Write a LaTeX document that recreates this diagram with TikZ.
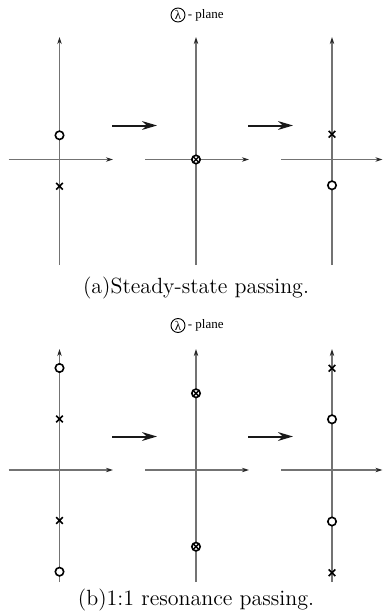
\documentclass[tikz,border=0pt]{standalone}
\usepackage{fontspec}
\newfontfamily\timesf{Liberation Serif}
\usetikzlibrary{arrows.meta,shapes.misc}
\begin{document}
\begin{tikzpicture}[x=0.5pt,y=-0.5pt,
  axisline/.style={draw=black!55, line width=0.6pt, -{Stealth[length=3.5pt,width=2.2pt,black!85]}},
  passarrow/.style={draw=black!90, line width=1pt, -{Stealth[length=7.5pt,width=4.4pt]}},
  zero/.style={circle, draw=black, fill=white, line width=0.8pt, minimum size=4.2pt, inner sep=0pt},
  pole/.style={cross out, draw=black, line width=0.8pt, minimum size=2.5pt, inner sep=0pt},
  polesmall/.style={cross out, draw=black, line width=0.7pt, minimum size=2pt, inner sep=0pt},
  lamcirc/.style={circle, draw=black, line width=0.45pt, minimum size=7pt, inner sep=0pt, font=\timesf\fontsize{6.5}{7}\selectfont},
  planelabel/.style={anchor=west, inner sep=0pt, font=\timesf\fontsize{6.5}{7}\selectfont},
  caption/.style={inner sep=0pt, font=\fontsize{11}{13}\selectfont}]
\useasboundingbox (0,0) rectangle (383,615);
% ---------- panel (a) ----------
\foreach \cx/\rx/\nm in {59.5/113/aL,196/249/aM,332/382.5/aR}{
  \coordinate (\nm b) at (\cx,265);
  \coordinate (\nm t) at (\cx,37);
  \coordinate (\nm l) at (\cx-51,159.5);
  \coordinate (\nm r) at (\rx,159.5);
  \draw[axisline] (\nm b) -- (\nm t);
  \draw[axisline] (\nm l) -- (\nm r);
}
\coordinate (aA1s) at (112,125.5); \coordinate (aA1e) at (157,125.5);
\coordinate (aA2s) at (248,125.5); \coordinate (aA2e) at (293,125.5);
\draw[passarrow] (aA1s) -- (aA1e);
\draw[passarrow] (aA2s) -- (aA2e);
\node[zero] (aLz) at (59.5,135.3) {};
\node[pole] (aLp) at (59.5,186.3) {};
\node[zero] (aMz) at (196,159.5) {};
\node[polesmall] (aMp) at (196,159.5) {};
\node[pole] (aRp) at (332,134.3) {};
\node[zero] (aRz) at (332,185.3) {};
\node[lamcirc] (aLam) at (178,15) {λ};
\node[planelabel] (aPlane) at ([xshift=1pt]aLam.east) {- plane};
\node[caption] (aCap) at (196,288) {(a)Steady-state passing.};
% ---------- panel (b) ----------
\foreach \cx/\rx/\nm in {59.5/113/bL,196/249/bM,332/382.5/bR}{
  \coordinate (\nm b) at (\cx,582);
  \coordinate (\nm t) at (\cx,349);
  \coordinate (\nm l) at (\cx-51,470);
  \coordinate (\nm r) at (\rx,470);
  \draw[axisline] (\nm b) -- (\nm t);
  \draw[axisline] (\nm l) -- (\nm r);
}
\coordinate (bA1s) at (112,436.5); \coordinate (bA1e) at (157,436.5);
\coordinate (bA2s) at (248,436.5); \coordinate (bA2e) at (293,436.5);
\draw[passarrow] (bA1s) -- (bA1e);
\draw[passarrow] (bA2s) -- (bA2e);
\node[zero] (bLz1) at (59.5,368) {};
\node[pole] (bLp1) at (59.5,419) {};
\node[pole] (bLp2) at (59.5,520.5) {};
\node[zero] (bLz2) at (59.5,571.7) {};
\node[zero] (bMz1) at (196,393.3) {};
\node[polesmall] (bMp1) at (196,393.3) {};
\node[zero] (bMz2) at (196,546.7) {};
\node[polesmall] (bMp2) at (196,546.7) {};
\node[pole] (bRp1) at (332,368.3) {};
\node[zero] (bRz1) at (332,419.3) {};
\node[zero] (bRz2) at (332,521.5) {};
\node[pole] (bRp2) at (332,572.7) {};
\node[lamcirc] (bLam) at (178,325.5) {λ};
\node[planelabel] (bPlane) at ([xshift=1pt]bLam.east) {- plane};
\node[caption] (bCap) at (196,600) {(b)1:1 resonance passing.};
\end{tikzpicture}
\end{document}
